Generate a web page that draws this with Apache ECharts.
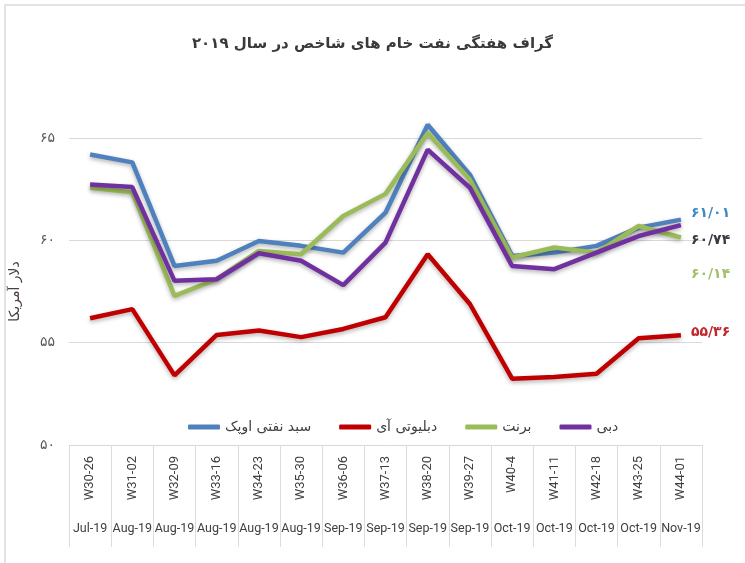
<!DOCTYPE html>
<html lang="fa">
<head>
<meta charset="utf-8">
<script src="https://cdn.jsdelivr.net/npm/echarts@6/dist/echarts.min.js"></script>
<style>
    body { margin: 0; background: #fff; }
    #frame { position: absolute; left: 4px; top: 4px; width: 745px; height: 563px;
             border-left: 2px solid #e3e3e3; border-top: 2px solid #e3e3e3; }
    #main { position: absolute; left: 0; top: 0; width: 745px; height: 563px; }
</style>
</head>
<body>
<div id="frame"></div>
<div id="main"></div>
<script>
    // هفته ها و ماه ها
    var weeks = ['W30-26', 'W31-02', 'W32-09', 'W33-16', 'W34-23', 'W35-30', 'W36-06', 'W37-13',
                 'W38-20', 'W39-27', 'W40-4', 'W41-11', 'W42-18', 'W43-25', 'W44-01'];
    var months = ['Jul-19', 'Aug-19', 'Aug-19', 'Aug-19', 'Aug-19', 'Aug-19', 'Sep-19', 'Sep-19',
                  'Sep-19', 'Sep-19', 'Oct-19', 'Oct-19', 'Oct-19', 'Oct-19', 'Nov-19'];

    // قیمت ها (دلار)
    var opec  = [64.19, 63.81, 58.75, 59.00, 59.97, 59.73, 59.40, 61.35, 65.65, 63.21, 59.24, 59.40, 59.73, 60.62, 61.01];
    var wti   = [56.19, 56.64, 53.40, 55.38, 55.59, 55.27, 55.67, 56.24, 59.32, 56.89, 53.24, 53.32, 53.48, 55.22, 55.36];
    var brent = [62.57, 62.35, 57.29, 58.10, 59.48, 59.32, 61.19, 62.27, 65.24, 62.97, 59.16, 59.65, 59.40, 60.70, 60.14];
    var dubai = [62.73, 62.60, 58.02, 58.10, 59.37, 59.00, 57.81, 59.89, 64.43, 62.57, 58.75, 58.59, 59.40, 60.21, 60.74];

    var yTicks = [50, 55, 60, 65];

    function fa(s) {
        return String(s).replace(/\d/g, function (d) { return '۰۱۲۳۴۵۶۷۸۹'[d]; });
    }

    var chart = echarts.init(document.getElementById('main'));

    function makeSeries(name, data, color, labelColor, dy) {
        return {
            name: name,
            type: 'line',
            data: data,
            symbol: 'none',
            clip: false,
            lineStyle: {
                width: 4.5, color: color,
                shadowColor: 'rgba(0,0,0,0.3)', shadowBlur: 4, shadowOffsetY: 2
            },
            itemStyle: { color: color },
            endLabel: {
                show: true,
                distance: 10,
                offset: [0, dy],
                color: labelColor,
                fontSize: 14,
                fontWeight: 'bold',
                fontFamily: 'DejaVu Sans',
                formatter: function (p) { return fa(p.value.toFixed(2).replace('.', '/')); }
            }
        };
    }

    var option = {
        animation: false,
        title: {
            text: 'گراف هفتگی نفت خام های شاخص در سال ۲۰۱۹',
            left: 'center',
            top: 32,
            textStyle: { fontSize: 15, fontWeight: 'bold', color: '#3a3a3a', fontFamily: 'DejaVu Sans' }
        },
        legend: {
            left: 183,
            top: 415,
            icon: 'roundRect',
            itemWidth: 32,
            itemHeight: 5,
            itemGap: 28,
            textStyle: { fontSize: 14, color: '#404040', fontFamily: 'DejaVu Sans' },
            data: ['سبد نفتی اوپک', 'دبلیوتی آی', 'برنت', 'دبی']
        },
        grid: { left: 67, right: 43, top: 138, bottom: 118 },
        xAxis: [
            {
                type: 'category',
                position: 'bottom',
                data: weeks,
                boundaryGap: true,
                axisLine: { show: true, lineStyle: { color: '#d9d9d9' } },
                axisTick: { show: true, interval: 0, length: 102, lineStyle: { color: '#dcdcdc' } },
                axisLabel: { interval: 0, rotate: 90, margin: 11, fontSize: 13,
                             color: '#404040', fontFamily: 'Roboto' }
            },
            {
                type: 'category',
                position: 'bottom',
                data: months,
                boundaryGap: true,
                axisLine: { show: false },
                axisTick: { show: false },
                axisLabel: { interval: 0, margin: 77, fontSize: 12.5,
                             color: '#404040', fontFamily: 'Roboto' }
            }
        ],
        yAxis: {
            type: 'value',
            min: yTicks[0],
            max: yTicks[yTicks.length - 1],
            interval: 5,
            name: 'دلار آمریکا',
            nameLocation: 'middle',
            nameGap: 47,
            nameTextStyle: { fontSize: 14, color: '#4a4040', fontFamily: 'DejaVu Sans' },
            axisLine: { show: false },
            axisTick: { show: false },
            splitLine: { lineStyle: { color: '#d9d9d9' } },
            axisLabel: {
                margin: 14, fontSize: 14, color: '#595959', fontFamily: 'DejaVu Sans',
                formatter: function (v) { return fa(v); }
            }
        },
        series: [
            makeSeries('سبد نفتی اوپک', opec, '#4f81bd', '#3f8cc4', -6),
            makeSeries('دبلیوتی آی', wti, '#c00000', '#c0262d', -3),
            makeSeries('برنت', brent, '#9bbb59', '#a4bf6a', 37),
            makeSeries('دبی', dubai, '#7030a0', '#3e3a44', 15)
        ]
    };

    chart.setOption(option);
</script>
</body>
</html>
